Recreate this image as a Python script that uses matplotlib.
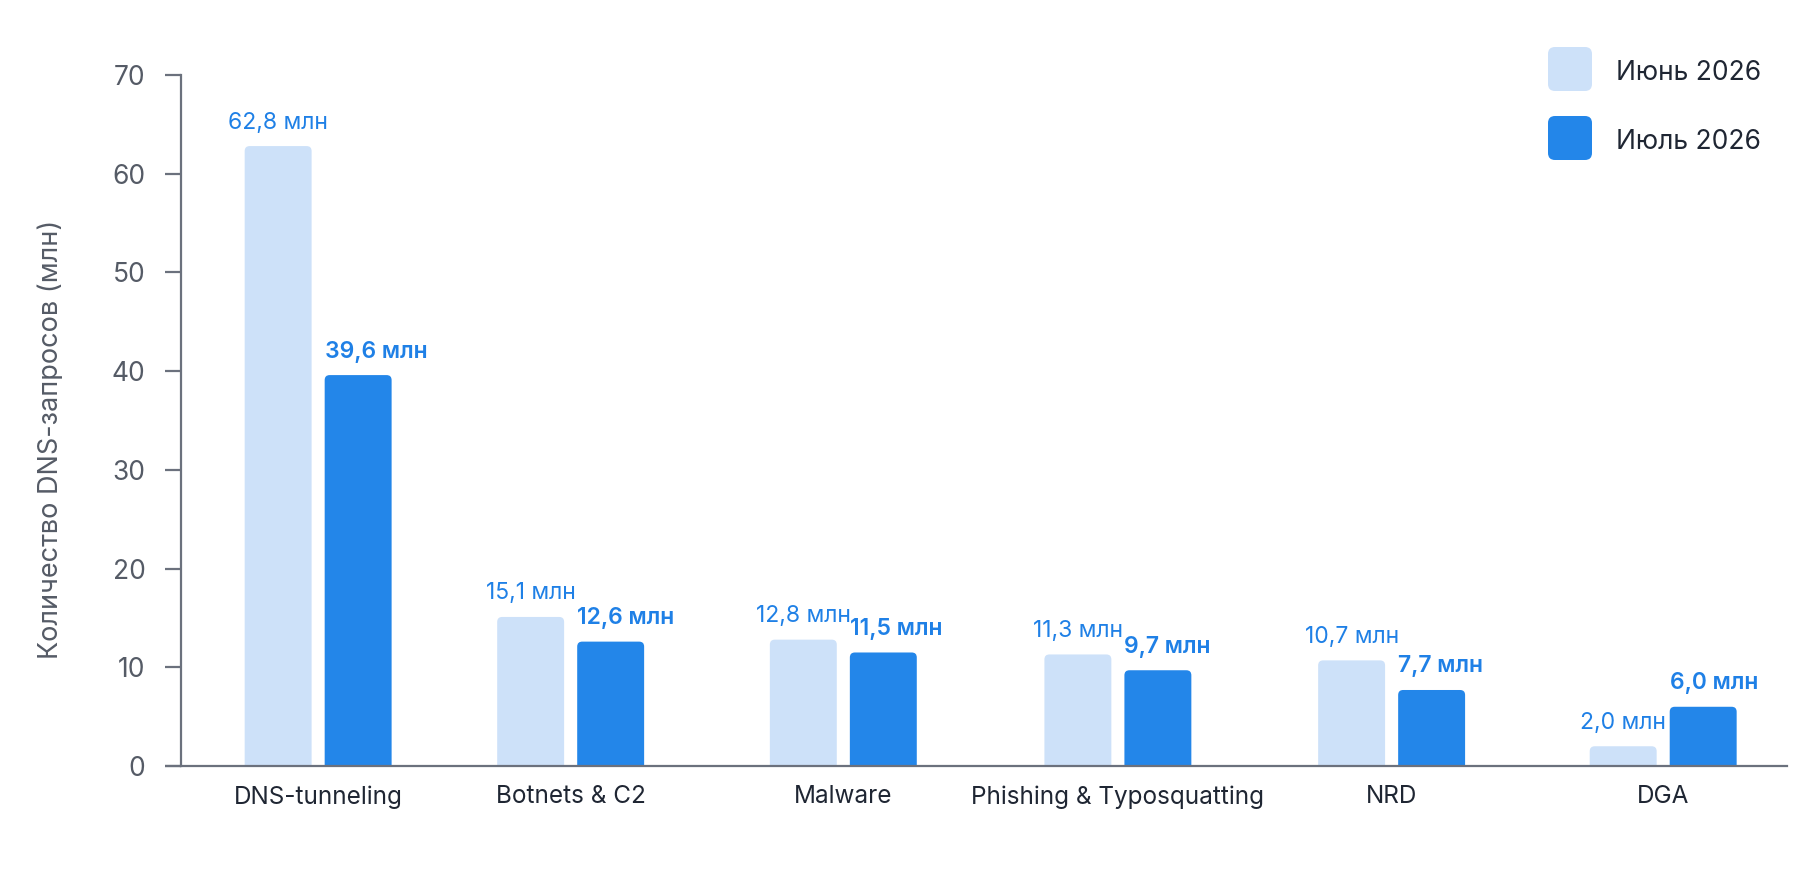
import numpy as np
import matplotlib
matplotlib.use('Agg')
import matplotlib.pyplot as plt
from matplotlib.patches import FancyBboxPatch
from matplotlib.transforms import IdentityTransform

plt.rcParams['font.family'] = ['Inter', 'DejaVu Sans']

# Данные
categories = ['DNS-tunneling', 'Botnets & C2', 'Malware',
              'Phishing & Typosquatting', 'NRD', 'DGA']
june = [62.8, 15.1, 12.8, 11.3, 10.7, 2.0]
july = [39.6, 12.6, 11.5, 9.7, 7.7, 6.0]
june_labels = ['62,8 млн', '15,1 млн', '12,8 млн', '11,3 млн', '10,7 млн', '2,0 млн']
july_labels = ['39,6 млн', '12,6 млн', '11,5 млн', '9,7 млн', '7,7 млн', '6,0 млн']
series_names = ['Июнь 2026', 'Июль 2026']
y_ticks = [0, 10, 20, 30, 40, 50, 60, 70]

# расположение групп по оси x (как на исходной картинке, шаг неравномерный)
group_pos = [0, 0.928, 1.930, 2.939, 3.945, 4.943]

c_light = '#cde1f9'
c_dark = '#2386e9'
c_text_blue = '#1f80e6'
c_axis = '#6b717d'
c_tick = '#555b66'
c_dark_text = '#1f2633'

fig = plt.figure(figsize=(18.04, 8.72), dpi=100)
ax = fig.add_axes([181/1804, 1-766/872, (1787-181)/1804, (766-75)/872])

x = np.array(group_pos)
w = 0.246
off = 0.147

xmin, xmax = -0.504, 5.398
ax.set_xlim(xmin, xmax)
ax.set_ylim(0, 70)

# пиксели на единицу данных (для скругления углов)
px_x = 1606 / (xmax - xmin)
px_y = 691 / 70.0
aspect = px_x / px_y


def rounded_bar(xc, h, color):
    r = 5 / px_x
    p = FancyBboxPatch((xc - w/2, -3), w, h + 3,
                       boxstyle='round,pad=0,rounding_size=%f' % r,
                       mutation_aspect=aspect, fc=color, ec='none', zorder=2)
    ax.add_patch(p)


for i in range(len(categories)):
    rounded_bar(x[i] - off, june[i], c_light)
    rounded_bar(x[i] + off, july[i], c_dark)
    ax.annotate(june_labels[i], (x[i] - off, june[i]), xytext=(0, 9),
                textcoords='offset points', ha='center', va='bottom',
                fontsize=16.5, color=c_text_blue)
    ax.annotate(july_labels[i], (x[i] + off - w/2, july[i]), xytext=(0, 9),
                textcoords='offset points', ha='left', va='bottom',
                fontsize=16.5, color=c_text_blue, fontweight='semibold')

# оси
for s in ['top', 'right']:
    ax.spines[s].set_visible(False)
for s in ['left', 'bottom']:
    ax.spines[s].set_color(c_axis)
    ax.spines[s].set_linewidth(1.6)

ax.plot([-0.01, 0], [0, 0], transform=ax.transAxes, color=c_axis, lw=1.6,
        clip_on=False, solid_capstyle='butt')

ax.set_yticks(y_ticks)
ax.tick_params(axis='y', length=11.5, width=1.6, color=c_axis, pad=14,
               labelsize=19, labelcolor=c_tick)
ax.set_xticks(x)
ax.set_xticklabels(categories)
ax.tick_params(axis='x', length=0, pad=14, labelsize=17.5, labelcolor=c_dark_text)

ax.set_ylabel('Количество DNS-запросов (млн)', fontsize=19.5, color=c_tick)
ax.yaxis.set_label_coords(-0.073, 0.472)

# легенда (квадраты со скруглёнными углами)
legend_y = [872 - 69, 872 - 138]
for yy, col, name in zip(legend_y, [c_light, c_dark], series_names):
    sq = FancyBboxPatch((1548, yy - 22), 44, 44,
                        boxstyle='round,pad=0,rounding_size=7',
                        transform=IdentityTransform(), fc=col, ec='none')
    fig.patches.append(sq)
    fig.text(1616/1804, (yy - 4)/872, name, fontsize=19, color=c_dark_text,
             ha='left', va='center')

fig.savefig('out.png', dpi=100, facecolor='white')
